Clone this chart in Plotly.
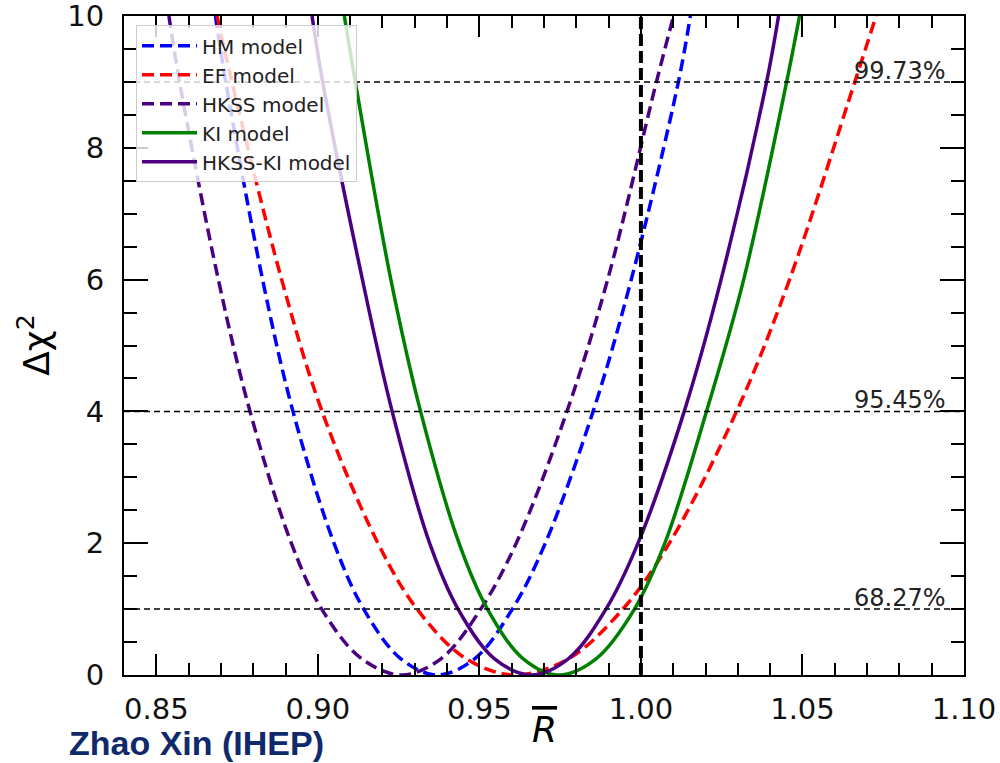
import plotly.graph_objects as go

# Delta chi^2 profiles versus R-bar for each reactor flux model.
# Each curve is listed as (R-bar, delta chi^2) pairs, left branch to right branch.
dchi2_levels = [10, 9, 6, 4, 2, 1, 0.25, 0, 0.25, 1, 2, 4, 6, 9, 10]

hm_r = [0.8683, 0.8715, 0.8829, 0.8923, 0.9050, 0.9142, 0.9256, 0.9370,
        0.9486, 0.9602, 0.9704, 0.9852, 0.9970, 1.0116, 1.0153]
ef_r = [0.8688, 0.8734, 0.8888, 0.9013, 0.9186, 0.9307, 0.9458, 0.9610,
        0.9777, 0.9944, 1.0088, 1.0296, 1.0460, 1.0662, 1.0728]
hkss_r = [0.8539, 0.8572, 0.8692, 0.8790, 0.8918, 0.9012, 0.9135, 0.9260,
          0.9382, 0.9504, 0.9614, 0.9771, 0.9897, 1.0048, 1.0101]
ki_r = [0.9082, 0.9116, 0.9226, 0.9318, 0.9437, 0.9525, 0.9635, 0.9745,
        0.9862, 0.9980, 1.0074, 1.0203, 1.0318, 1.0451, 1.0491]
hkss_ki_r = [0.8982, 0.9015, 0.9138, 0.9230, 0.9346, 0.9434, 0.9546, 0.9660,
             0.9776, 0.9892, 0.9991, 1.0134, 1.0248, 1.0389, 1.0426]

model_names = ["HM model", "EF model", "HKSS model", "KI model", "HKSS-KI model"]
model_r = [hm_r, ef_r, hkss_r, ki_r, hkss_ki_r]
model_colors = ["#0000ff", "#ff0000", "#4b0082", "#008000", "#4b0082"]
model_dash = ["12px,6px", "12px,6px", "12px,6px", "solid", "solid"]

# Confidence levels and their delta chi^2 thresholds
cl_levels = [1, 4, 9]
cl_labels = ["68.27%", "95.45%", "99.73%"]

x_range = [0.84, 1.10]
y_range = [0, 10]
x_ticks = [0.85, 0.90, 0.95, 1.00, 1.05, 1.10]
x_ticktext = ["0.85", "0.90", "0.95", "1.00", "1.05", "1.10"]
y_ticks = [0, 2, 4, 6, 8, 10]
r_reference = 1.00

fig = go.Figure()

for name, rs, color, dash in zip(model_names, model_r, model_colors, model_dash):
    fig.add_trace(go.Scatter(
        x=rs, y=dchi2_levels, mode="lines", name=name,
        line=dict(color=color, width=3.5, dash=dash, shape="spline", smoothing=1),
    ))

for lvl in cl_levels:
    fig.add_trace(go.Scatter(
        x=x_range, y=[lvl, lvl], mode="lines", showlegend=False,
        line=dict(color="black", width=1.5, dash="6px,4px"), hoverinfo="skip",
    ))

fig.add_trace(go.Scatter(
    x=[r_reference, r_reference], y=y_range, mode="lines", showlegend=False,
    line=dict(color="black", width=4, dash="12px,5px"), hoverinfo="skip",
))

for lvl, lab in zip(cl_levels, cl_labels):
    fig.add_annotation(
        x=1.0951, y=lvl, xref="x", yref="y", text=lab, showarrow=False,
        xanchor="right", yanchor="bottom", yshift=-5,
        font=dict(family="DejaVu Sans", size=24, color="#222222"),
    )

tick_font = dict(family="DejaVu Sans", size=29, color="#111111")

fig.update_xaxes(
    range=x_range, tickmode="array", tickvals=x_ticks, ticktext=x_ticktext,
    ticks="inside", ticklen=21, tickwidth=1.5, tickcolor="black",
    minor=dict(tick0=0.84, dtick=0.01, ticks="inside", ticklen=12,
               tickwidth=1.5, tickcolor="black", showgrid=False),
    showline=True, linecolor="black", linewidth=2, mirror="ticks",
    showgrid=False, zeroline=False, tickfont=tick_font, ticklabelstandoff=7,
    automargin=False, ticklabeloverflow="allow",
)
fig.update_yaxes(
    range=y_range, tickmode="array", tickvals=y_ticks,
    ticks="inside", ticklen=24, tickwidth=1.5, tickcolor="black",
    minor=dict(tick0=0, dtick=0.5, ticks="inside", ticklen=13,
               tickwidth=1.5, tickcolor="black", showgrid=False),
    showline=True, linecolor="black", linewidth=2, mirror="ticks",
    showgrid=False, zeroline=False, tickfont=tick_font, ticklabelstandoff=12,
    automargin=False, ticklabeloverflow="allow",
)

# Axis titles
fig.add_annotation(
    x=0.5, y=-0.082, xref="paper", yref="paper", showarrow=False,
    text='<i><span style="text-decoration:overline">R</span></i>',
    xanchor="center", yanchor="middle",
    font=dict(family="DejaVu Sans", size=36, color="black"),
)
fig.add_annotation(
    x=-0.108, y=0.5, xref="paper", yref="paper", showarrow=False,
    text="Δχ<sup>2</sup>", textangle=-90, xanchor="center", yanchor="middle",
    font=dict(family="DejaVu Sans", size=36, color="black"),
)
fig.add_annotation(
    x=-0.0667, y=-0.1335, xref="paper", yref="paper", showarrow=False,
    text="<b>Zhao Xin (IHEP)</b>", xanchor="left", yanchor="bottom",
    borderpad=0,
    font=dict(family="Liberation Sans", size=34, color="#0f2a6b"),
)

fig.update_layout(
    width=1000, height=763,
    margin=dict(l=124, r=36, t=16, b=88),
    paper_bgcolor="white", plot_bgcolor="white",
    showlegend=True,
    legend=dict(
        x=0.0143, y=0.986, xanchor="left", yanchor="top",
        bgcolor="rgba(255,255,255,0.8)", bordercolor="#cccccc", borderwidth=1,
        font=dict(family="DejaVu Sans", size=20, color="#222222"),
        tracegroupgap=0, itemwidth=55,
    ),
)

fig.write_html("out.html")
